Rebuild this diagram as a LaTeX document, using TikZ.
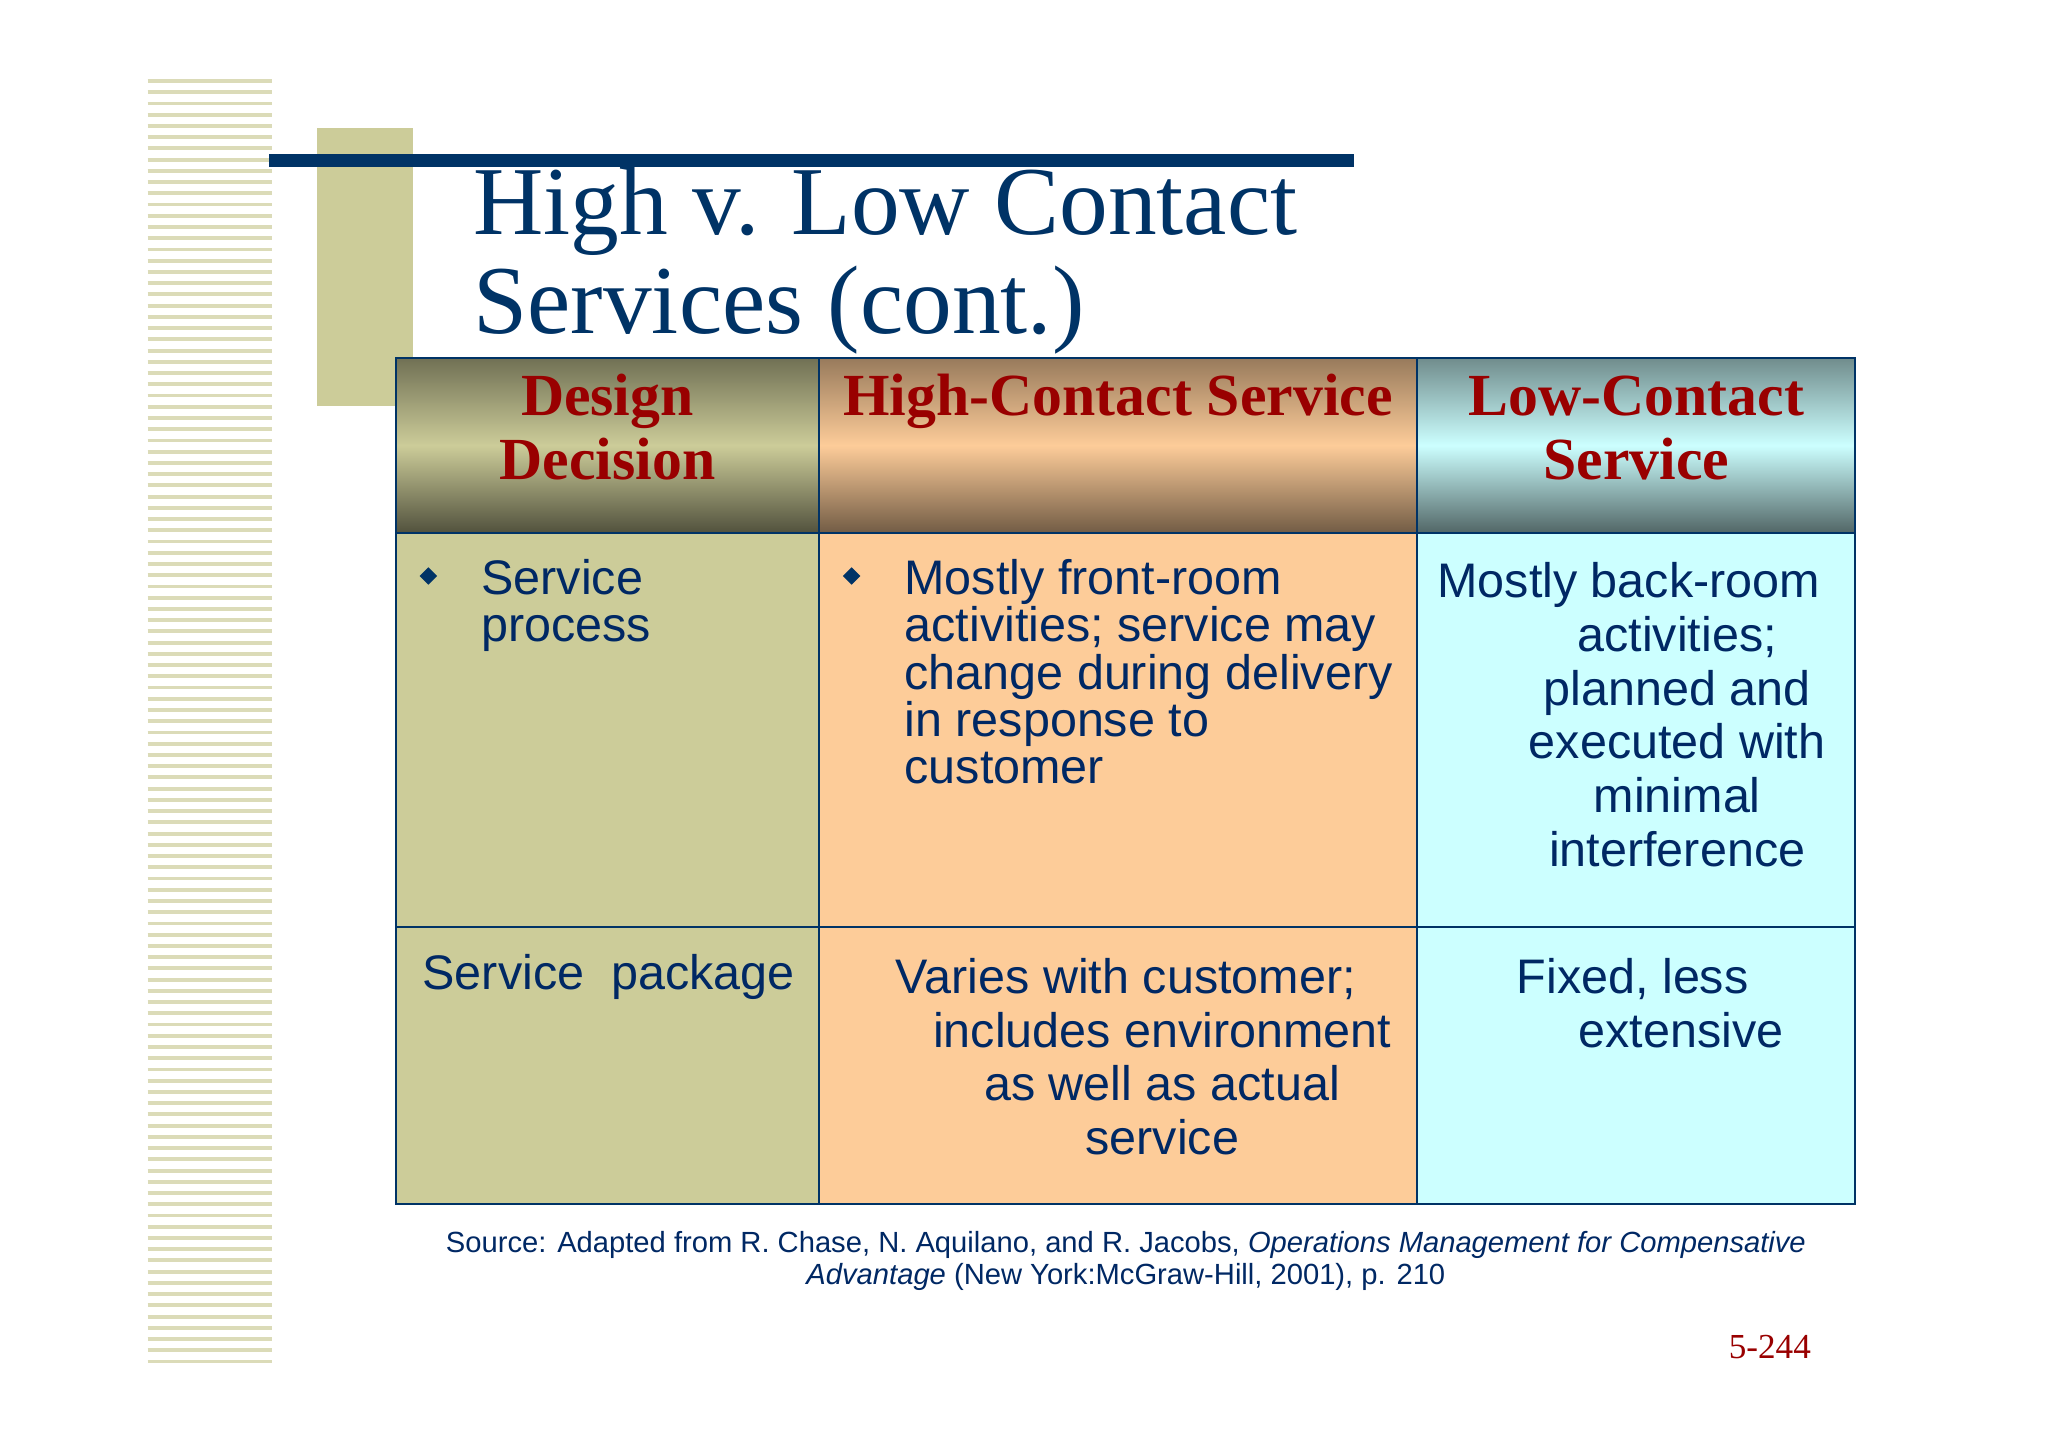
\documentclass[tikz,border=0pt]{standalone}
\usepackage{fontspec}
\setmainfont{Liberation Serif}
\newfontfamily\arial{Liberation Sans}
\definecolor{olive}{RGB}{204,204,153}
\definecolor{navy}{RGB}{0,51,102}
\definecolor{dred}{RGB}{153,0,0}
\definecolor{peach}{RGB}{253,204,153}
\definecolor{cyanl}{RGB}{204,255,255}
\definecolor{txt}{RGB}{0,40,100}
\tikzset{
 cell/.style={draw=navy,line width=0.5pt},
 head/.style={font=\bfseries\fontsize{17}{18.2}\selectfont,text=dred,align=center,inner sep=0pt},
 body/.style={font=\arial\fontsize{13.8}{13.4}\selectfont,text=txt,inner sep=0pt,anchor=north west,align=left},
 bul/.style={fill=navy,minimum size=3.5pt,inner sep=0pt,rotate=45,draw=none}
}
\begin{document}
\begin{tikzpicture}[x=0.01306cm,y=-0.01306cm]
\useasboundingbox (0,0) rectangle (1568,1108);
\fill[white] (0,0) rectangle (1568,1108);
% stripes
\foreach \i in {0,...,114}{
  \pgfmathsetmacro{\yy}{62+\i*8.6}
  \draw[olive!70,line width=1.1pt] (113,\yy) -- (208,\yy);
}
\fill[olive] (243,98) rectangle (316,311);
\fill[navy] (206,118) rectangle (1037,128);
\node[anchor=base west,inner sep=0pt,text=navy,font=\fontsize{27.7}{28}\selectfont,align=left] (title) at (362,255) {High v. Low Contact\\Services (cont.)};
% header shading
\shade[top color=olive!55!black, bottom color=olive!40!black, middle color=olive] (303,274) rectangle (627,408);
\shade[top color=peach!60!black, bottom color=peach!45!black, middle color=peach] (627,274) rectangle (1085,408);
\shade[top color=cyanl!55!black, bottom color=cyanl!40!black, middle color=cyanl] (1085,274) rectangle (1420,408);
\fill[olive] (303,408) rectangle (627,922);
\fill[peach] (627,408) rectangle (1085,922);
\fill[cyanl] (1085,408) rectangle (1420,922);
\draw[cell] (303,274) rectangle (1420,922);
\draw[cell] (627,274) -- (627,922) (1085,274) -- (1085,922) (303,408) -- (1420,408) (303,710) -- (1420,710);
\node[head,anchor=base] (h1) at (465,367) {Design\\Decision};
\node[head,anchor=base] (h2) at (856,318) {High-Contact Service};
\node[head,anchor=base] (h3) at (1253,367) {Low-Contact\\Service};
\node[bul] (b1) at (328,441) {};
\node[body] (c11) at (368,428) {Service\\process};
\node[bul] (b2) at (652,441) {};
\node[body] (c12) at (692,428) {Mostly front-room\\activities; service may\\change during delivery\\in response to\\customer};
\node[body,anchor=north,align=center,font=\arial\fontsize{13.8}{15.3}\selectfont] (c13) at (1247,430) {Mostly back-room\\\hspace*{2em}activities;\\\hspace*{2em}planned and\\\hspace*{2em}executed with\\\hspace*{2em}minimal\\\hspace*{2em}interference};
\node[body] (c21) at (323,730) {Service\ \ package};
\node[body,anchor=north,align=center,font=\arial\fontsize{13.8}{15.3}\selectfont] (c22) at (862,733) {Varies with customer;\\\hspace*{1.5em}includes environment\\\hspace*{1.5em}as well as actual\\\hspace*{1.5em}service};
\node[body,anchor=north,align=center,font=\arial\fontsize{13.8}{15.3}\selectfont] (c23) at (1250,733) {Fixed, less\\\hspace*{2em}extensive};
\node[anchor=north,inner sep=0pt,text=txt,align=center,font=\arial\fontsize{8.3}{9.3}\selectfont] (src) at (862,942) {Source: Adapted from R. Chase, N. Aquilano, and R. Jacobs, \textit{Operations Management for Compensative}\\\textit{Advantage} (New York:McGraw-Hill, 2001), p. 210};
\node[anchor=base east,inner sep=0pt,text=dred,font=\fontsize{10}{10}\selectfont] (pg) at (1387,1040) {5-244};
\end{tikzpicture}
\end{document}
